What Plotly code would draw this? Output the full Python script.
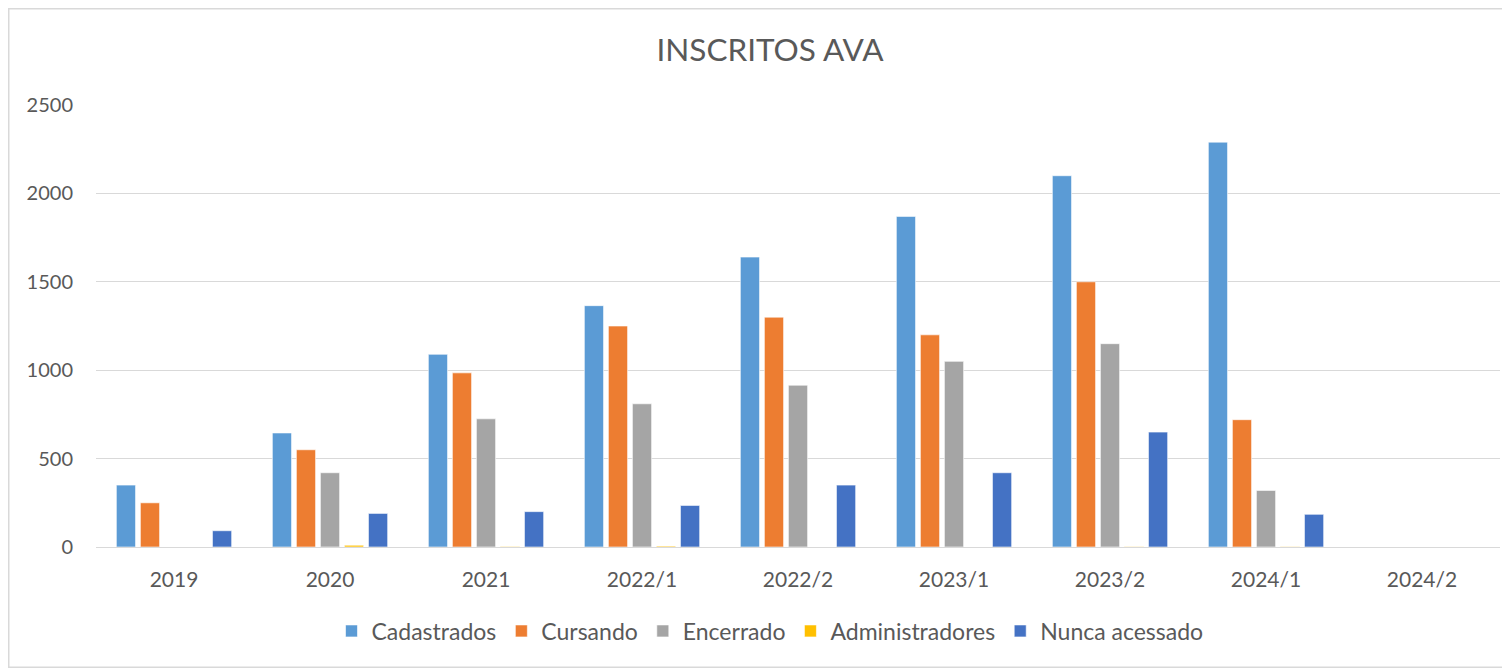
import plotly.graph_objects as go

categories = ["2019", "2020", "2021", "2022/1", "2022/2", "2023/1", "2023/2", "2024/1", "2024/2"]
cadastrados = [350, 645, 1090, 1365, 1640, 1870, 2100, 2290, 0]
cursando = [250, 550, 985, 1250, 1300, 1200, 1500, 720, 0]
encerrado = [0, 420, 725, 810, 915, 1050, 1150, 320, 0]
administradores = [0, 10, 3, 5, 0, 0, 2, 2, 0]
nunca_acessado = [92, 190, 200, 235, 350, 420, 650, 185, 0]

series = [
    ("Cadastrados", cadastrados, "#5B9BD5"),
    ("Cursando", cursando, "#ED7D31"),
    ("Encerrado", encerrado, "#A5A5A5"),
    ("Administradores", administradores, "#FFC000"),
    ("Nunca acessado", nunca_acessado, "#4472C4"),
]

font_family = "Lato, 'Open Sans', sans-serif"
text_color = "#595959"

fig = go.Figure()
for name, vals, color in series:
    fig.add_trace(go.Bar(
        x=categories, y=vals, name=name,
        marker=dict(color=color, line=dict(color="rgba(255,255,255,0.6)", width=1)),
    ))

# page body offsets the figure by ~8px; sizes chosen accordingly
W, H = 1502, 660
L, R, T, B = 88, 10, 97, 121
pw = W - L - R
ph = H - T - B
axis_y = T + ph  # pixel y of zero line

fig.update_layout(
    width=W, height=H,
    margin=dict(l=L, r=R, t=T, b=B),
    paper_bgcolor="white", plot_bgcolor="white",
    barmode="group", bargap=0.23, bargroupgap=0.2,
    font=dict(family=font_family, color=text_color, size=21),
    title=dict(text="INSCRITOS AVA", x=762 / W, xanchor="center", y=(H - 42) / H, yanchor="middle",
               font=dict(size=31.5, color=text_color, family=font_family, weight=400)),
    legend=dict(orientation="h", x=(762 - L) / pw, xanchor="center", y=(axis_y - 623) / ph,
                yanchor="middle", font=dict(size=23, color=text_color), itemwidth=30,
                traceorder="normal"),
    showlegend=True,
)
fig.update_yaxes(range=[0, 2500], dtick=500, showgrid=True, gridcolor="#D9D9D9", gridwidth=1,
                 zeroline=False, showline=False, ticks="", ticklabelstandoff=22,
                 tickfont=dict(size=20, color=text_color))
fig.update_xaxes(showline=True, linecolor="#D9D9D9", linewidth=1, ticks="", showgrid=False,
                 ticklabelstandoff=14, tickfont=dict(size=21, color=text_color))

# outer chart border
fig.add_shape(type="rect", xref="paper", yref="paper",
              x0=(0.75 - L) / pw, x1=(W - 0.75 - L) / pw,
              y0=(axis_y - (H - 0.75)) / ph, y1=(axis_y - 0.75) / ph,
              line=dict(color="#D9D9D9", width=1.5), fillcolor="rgba(0,0,0,0)", layer="below")

fig.write_html("out.html")
